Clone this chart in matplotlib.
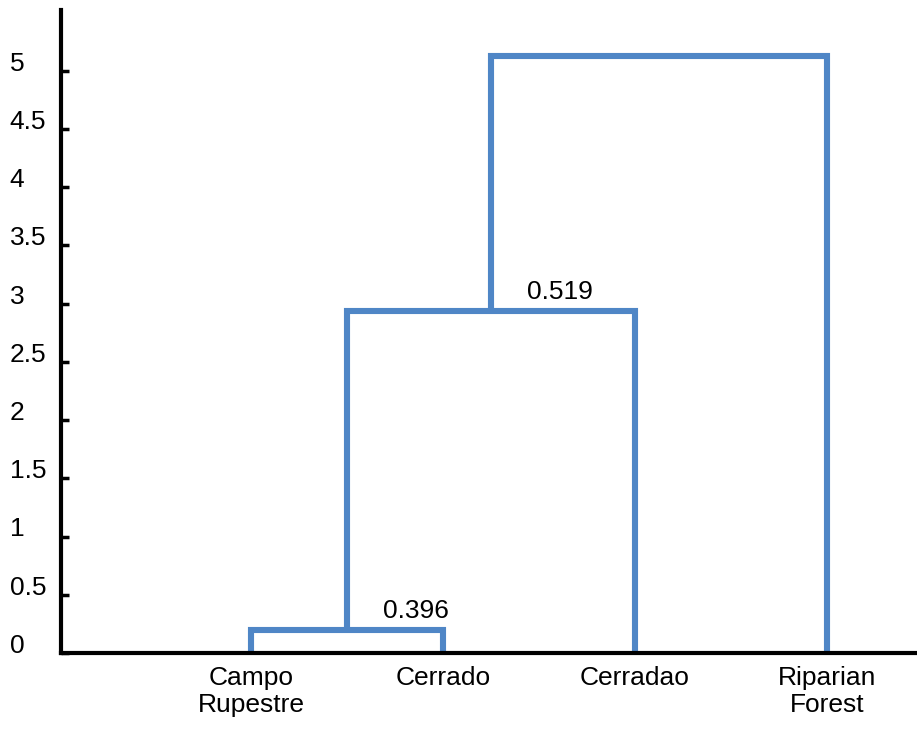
import matplotlib

matplotlib.use("Agg")
import matplotlib.pyplot as plt
import matplotlib.transforms as mtransforms
import numpy as np

# leaves in plotting order and merge heights (as drawn)
LEAVES = ["Campo\nRupestre", "Cerrado", "Cerradao", "Riparian\nForest"]
# each merge: (left member, right member, height); members are leaf index or "n<k>" for earlier merge
MERGES = [(0, 1, 0.2), ("n0", 2, 2.94), ("n1", 3, 5.13)]
MERGE_LABELS = ["0.396", "0.519", ""]
Y_TICKS = [0, 0.5, 1, 1.5, 2, 2.5, 3, 3.5, 4, 4.5, 5]
Y_TICK_LABELS = ["0", "0.5", "1", "1.5", "2", "2.5", "3", "3.5", "4", "4.5", "5"]

LINE_COLOR = "#4f86c6"
FS = 19

plt.rcParams["font.family"] = ["Liberation Sans", "DejaVu Sans"]

fig = plt.figure(figsize=(9.17, 7.29), dpi=100)
ax = fig.add_axes([0.0665, 0.104, 0.9335, 0.882])

leaf_x = np.arange(1, len(LEAVES) + 1)
nodes = {}  # name -> (x, y)


def member_pos(m):
    if isinstance(m, str):
        return nodes[m]
    return leaf_x[m], 0.0


for k, (a, b, h) in enumerate(MERGES):
    xa, ya = member_pos(a)
    xb, yb = member_pos(b)
    ax.plot(
        [xa, xa, xb, xb],
        [ya, h, h, yb],
        color=LINE_COLOR,
        linewidth=4.4,
        solid_joinstyle="miter",
        solid_capstyle="butt",
        zorder=2,
    )
    nodes[f"n{k}"] = ((xa + xb) / 2, h)
    if MERGE_LABELS[k]:
        ax.annotate(
            MERGE_LABELS[k],
            xy=((xa + xb) / 2, h),
            xytext=(50, 8.5),
            textcoords="offset points",
            ha="center",
            va="baseline",
            fontsize=FS,
        )

ax.set_xlim(0.01, 4.47)
ax.set_ylim(0, 5.52)

ax.spines["top"].set_visible(False)
ax.spines["right"].set_visible(False)
ax.spines["left"].set_linewidth(3)
ax.spines["bottom"].set_linewidth(3)
ax.spines["bottom"].set_zorder(3)

ax.set_xticks(leaf_x, labels=LEAVES, fontsize=FS, linespacing=1.2)
ax.tick_params(axis="x", length=0, pad=9)
for lab in ax.get_xticklabels():
    lab.set_va("top")

ax.set_yticks(Y_TICKS, labels=Y_TICK_LABELS, fontsize=FS)
ax.tick_params(axis="y", direction="in", length=6, width=2.5, pad=37)
offset = mtransforms.ScaledTranslation(0, 7 / 72, fig.dpi_scale_trans)
for lab in ax.get_yticklabels():
    lab.set_ha("left")
    lab.set_transform(lab.get_transform() + offset)

fig.savefig("out.png", dpi=100)
